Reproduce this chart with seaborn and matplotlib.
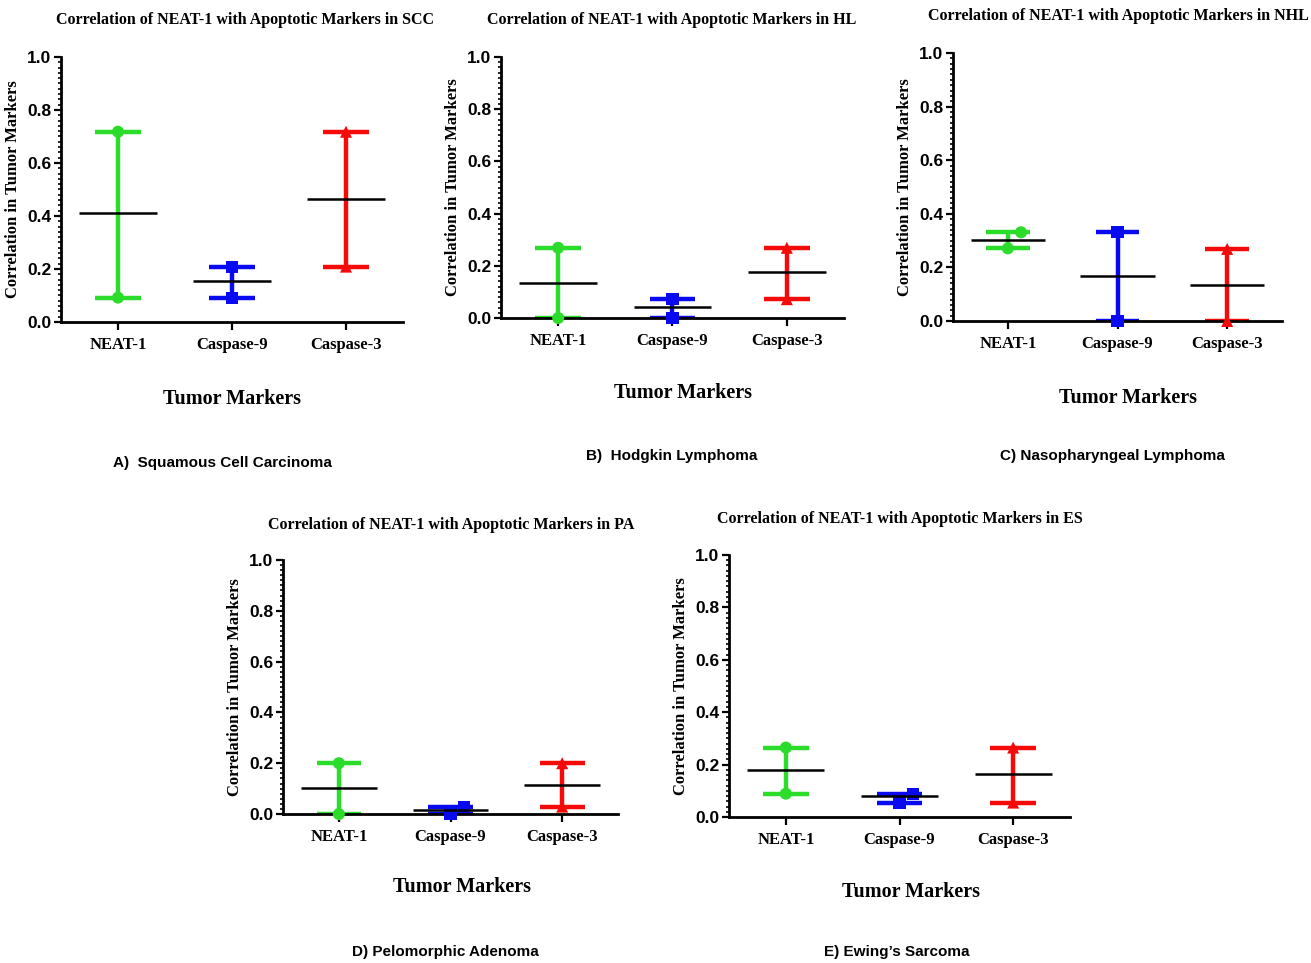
import matplotlib
matplotlib.use("Agg")
import matplotlib.pyplot as plt
from matplotlib.ticker import MultipleLocator
import seaborn as sns
import pandas as pd

# values (low end, high end, mean line) per panel
markers_names = ["NEAT-1", "Caspase-9", "Caspase-3"]
panel_codes = ["SCC", "HL", "NHL", "PA", "ES"]
captions = ["A)  Squamous Cell Carcinoma", "B)  Hodgkin Lymphoma", "C) Nasopharyngeal Lymphoma",
            "D) Pelomorphic Adenoma", "E) Ewing\u2019s Sarcoma"]

low_scc = [0.092, 0.092, 0.209]
high_scc = [0.718, 0.209, 0.718]
mean_scc = [0.411, 0.155, 0.464]

low_hl = [0.0, 0.0, 0.072]
high_hl = [0.269, 0.074, 0.269]
mean_hl = [0.135, 0.041, 0.177]

low_nhl = [0.271, 0.0, 0.0]
high_nhl = [0.331, 0.331, 0.269]
mean_nhl = [0.302, 0.167, 0.136]

low_pa = [0.0, 0.0, 0.029]
high_pa = [0.200, 0.029, 0.200]
mean_pa = [0.101, 0.016, 0.114]

low_es = [0.089, 0.055, 0.055]
high_es = [0.265, 0.089, 0.265]
mean_es = [0.178, 0.079, 0.163]

lows = [low_scc, low_hl, low_nhl, low_pa, low_es]
highs = [high_scc, high_hl, high_nhl, high_pa, high_es]
means = [mean_scc, mean_hl, mean_nhl, mean_pa, mean_es]

colors = ["#2bdc2b", "#0a0af0", "#f50a0a"]
shapes = ["o", "s", "^"]

sns.set_style("ticks")
plt.rcParams.update({"text.color": "black", "axes.labelcolor": "black",
                     "xtick.color": "black", "ytick.color": "black",
                     "axes.edgecolor": "black"})
serif = "Liberation Serif"
sans = "Liberation Sans"

W, H = 1311, 963
fig = plt.figure(figsize=(W / 100, H / 100), dpi=100)

# pixel boxes: (y-axis x, right x, top y (1.0), bottom y (0.0))
boxes = [(61, 403, 57, 322), (501, 844, 57, 318), (953, 1282, 53, 321),
         (283, 618, 560, 814), (729, 1070, 555, 817)]
title_pos = [(245, 20), (672, 20), (1118, 16), (451, 525), (900, 519)]
xlabel_pos = [(232, 399), (683, 393), (1128, 398), (462, 887), (911, 892)]
caption_pos = [(222, 463), (672, 456), (1112, 456), (445, 952), (897, 952)]

for i, code in enumerate(panel_codes):
    x0, x1, yt, yb = boxes[i]
    ax = fig.add_axes([x0 / W, 1 - yb / H, (x1 - x0) / W, (yb - yt) / H])

    rows = []
    for j, name in enumerate(markers_names):
        lo, hi = lows[i][j], highs[i][j]
        shift = 0.12 if hi - lo < 0.07 else 0.0
        rows.append({"pos": j, "val": lo, "marker": name})
        rows.append({"pos": j + shift, "val": hi, "marker": name})
    df = pd.DataFrame(rows)

    for j, name in enumerate(markers_names):
        lo, hi = lows[i][j], highs[i][j]
        ax.vlines(j, lo, hi, color=colors[j], lw=3.2, zorder=2)
        ax.hlines([lo, hi], j - 0.2, j + 0.2, color=colors[j], lw=3.2, zorder=2)
        ax.hlines(means[i][j], j - 0.34, j + 0.34, color="black", lw=1.8, zorder=4)

    sns.scatterplot(data=df, x="pos", y="val", hue="marker", style="marker",
                    palette=dict(zip(markers_names, colors)),
                    markers=dict(zip(markers_names, shapes)),
                    s=75, edgecolor="none", legend=False, ax=ax, zorder=3, clip_on=False)

    ax.set_xlim(-0.5, 2.5)
    ax.set_ylim(0, 1.0)
    ax.set_xticks(range(3))
    ax.set_xticklabels(markers_names, fontfamily=serif, fontweight="bold", fontsize=12)
    ax.set_yticks([0, 0.2, 0.4, 0.6, 0.8, 1.0])
    ax.set_yticklabels(["0.0", "0.2", "0.4", "0.6", "0.8", "1.0"],
                       fontfamily=sans, fontweight="bold", fontsize=12.5)
    ax.yaxis.set_minor_locator(MultipleLocator(0.02))
    ax.tick_params(axis="y", which="major", length=5, width=1.6, pad=2)
    ax.tick_params(axis="y", which="minor", length=2.5, width=1.2)
    ax.tick_params(axis="x", length=6, width=1.6, pad=5)
    ax.set_xlabel("")
    ax.set_ylabel("Correlation in Tumor Markers", fontfamily=serif, fontweight="bold",
                  fontsize=12, labelpad=4)
    for side in ["left", "bottom"]:
        ax.spines[side].set_linewidth(2)
    sns.despine(ax=ax)

    tx, ty = title_pos[i]
    fig.text(tx / W, 1 - ty / H, f"Correlation of NEAT-1 with Apoptotic Markers in {code}",
             ha="center", va="center", fontfamily=serif, fontweight="bold", fontsize=11.5)
    lx, ly = xlabel_pos[i]
    fig.text(lx / W, 1 - ly / H, "Tumor Markers", ha="center", va="center",
             fontfamily=serif, fontweight="bold", fontsize=14.5)
    cx, cy = caption_pos[i]
    fig.text(cx / W, 1 - cy / H, captions[i], ha="center", va="center",
             fontfamily=sans, fontweight="bold", fontsize=11)

fig.savefig("out.png", dpi=100, facecolor="white")
